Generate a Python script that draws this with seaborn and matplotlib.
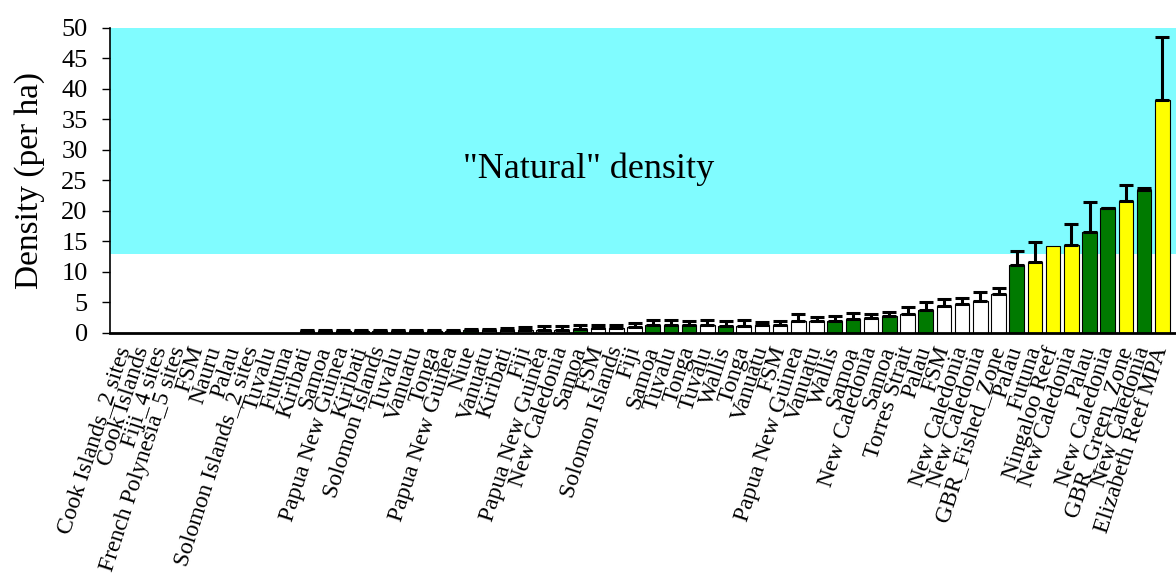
import numpy as np
import pandas as pd
import matplotlib
matplotlib.use("Agg")
import matplotlib.pyplot as plt
import seaborn as sns

# sites, left to right
sites = ["Cook Islands_2 sites", "Cook Islands", "Fiji_4 sites", "French Polynesia_5 sites",
         "FSM", "Nauru", "Palau", "Solomon Islands_2 sites", "Tuvalu", "Futuna",
         "Kiribati", "Samoa", "Papua New Guinea", "Kiribati", "Solomon Islands",
         "Tuvalu", "Vanuatu", "Tonga", "Papua New Guinea", "Niue",
         "Vanuatu", "Kiribati", "Fiji", "Papua New Guinea", "New Caledonia",
         "Samoa", "FSM", "Solomon Islands", "Fiji", "Samoa",
         "Tuvalu", "Tonga", "Tuvalu", "Wallis", "Tonga",
         "Vanuatu", "FSM", "Papua New Guinea", "Vanuatu", "Wallis",
         "Samoa", "New Caledonia", "Samoa", "Torres Strait", "Palau",
         "FSM", "New Caledonia", "New Caledonia", "GBR_Fished_Zone", "Palau",
         "Futuna", "Ningaloo Reef", "New Caledonia", "Palau", "New Caledonia",
         "GBR_Green_Zone", "New Caledonia", "Elizabeth Reef MPA"]

# mean density (per ha)
density = [0, 0, 0, 0, 0, 0, 0, 0, 0, 0,
           0.25, 0.3, 0.3, 0.3, 0.3, 0.3, 0.3, 0.35, 0.35, 0.4,
           0.4, 0.45, 0.5, 0.55, 0.55, 0.7, 0.75, 0.75, 1.0, 1.3,
           1.35, 1.3, 1.3, 1.1, 1.2, 1.25, 1.3, 2.0, 2.0, 2.0,
           2.35, 2.5, 2.7, 3.1, 3.7, 4.4, 4.75, 5.3, 6.3, 11.1,
           11.6, 14.3, 14.4, 16.6, 20.4, 21.6, 23.4, 38.2]

# upper error (SE)
err_up = [0, 0, 0, 0, 0, 0, 0, 0, 0, 0,
          0.15, 0.15, 0.15, 0.15, 0.15, 0.15, 0.15, 0.15, 0.2, 0.2,
          0.25, 0.3, 0.55, 0.55, 0.55, 0.55, 0.55, 0.55, 0.6, 0.85,
          0.75, 0.6, 0.8, 0.9, 0.9, 0.6, 0.6, 1.05, 0.6, 0.8,
          0.95, 0.6, 0.7, 1.2, 1.3, 1.1, 1.05, 1.4, 1.1, 2.3,
          3.3, 0, 3.4, 4.9, 0.15, 2.7, 0.4, 10.3]

# fill group of each bar: w = white, g = green, y = yellow
group = ["w"] * 10 + ["g"] * 8 + ["w", "g", "w", "w", "w", "w", "w", "g", "w", "w",
         "w", "g", "g", "g", "w", "g", "w", "w", "w", "w",
         "w", "g", "g", "w", "g", "w", "g", "w", "w", "w",
         "w", "g", "y", "y", "y", "g", "g", "y", "g", "y"]

palette = {"w": "white", "g": "#007a00", "y": "#ffff00"}

df = pd.DataFrame({"pos": np.arange(len(sites)), "density": density,
                   "err": err_up, "group": group})

sns.set_theme(style="white")
plt.rcParams["font.family"] = ["Liberation Serif", "DejaVu Serif"]
plt.rcParams["text.color"] = "black"
plt.rcParams["axes.labelcolor"] = "black"
plt.rcParams["xtick.color"] = "black"
plt.rcParams["ytick.color"] = "black"

fig = plt.figure(figsize=(11.76, 5.8), dpi=100)
ax = fig.add_axes([0.0935, 0.426, 0.9065, 0.526])

# "natural" density band
ax.axhspan(12.9, 50, color="#80fcff", zorder=0, lw=0)
ax.text(25.5, 26.8, '"Natural" density', fontsize=26, ha="center", va="center")

sns.barplot(data=df, x="pos", y="density", hue="group", palette=palette,
            dodge=False, width=0.8, edgecolor="black", linewidth=0.8,
            saturation=1, legend=False, errorbar=None, ax=ax, zorder=2)

has_err = df["err"] > 0
ax.errorbar(df["pos"][has_err], df["density"][has_err],
            yerr=[np.zeros(has_err.sum()), df["err"][has_err]],
            fmt="none", ecolor="black", elinewidth=2.2, capsize=5,
            capthick=2.2, zorder=3)

ax.set_xlim(-0.82, 57.75)
ax.set_ylim(0, 50)
ax.set_yticks(range(0, 51, 5))
ax.set_xticks(df["pos"])
ax.set_xticklabels(sites, rotation=72, ha="right", va="center",
                   rotation_mode="anchor", fontsize=17)
ax.tick_params(axis="x", length=0, pad=10)
ax.tick_params(axis="y", length=6, width=1, direction="out", labelsize=19,
               left=True, color="black", pad=10)
ax.set_xlabel("")
ax.set_ylabel("Density (per ha)", fontsize=24, labelpad=12)

sns.despine(ax=ax)
ax.spines["left"].set_color("black")
ax.spines["left"].set_linewidth(1.2)
ax.spines["bottom"].set_color("black")
ax.spines["bottom"].set_linewidth(2)

fig.savefig("out.png", dpi=100)
